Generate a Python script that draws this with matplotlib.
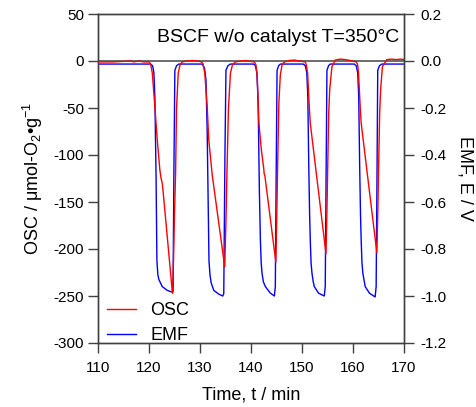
import matplotlib
matplotlib.use("Agg")
import matplotlib.pyplot as plt

plt.rcParams['font.family'] = ['Liberation Sans', 'DejaVu Sans']
plt.rcParams['mathtext.fontset'] = 'custom'
plt.rcParams['mathtext.rm'] = 'Liberation Sans'
plt.rcParams['mathtext.it'] = 'Liberation Sans:italic'
plt.rcParams['mathtext.bf'] = 'Liberation Sans:bold'
plt.rcParams['axes.unicode_minus'] = False

# ---- data ----
osc_time = [110.0, 113.0, 116.5, 117.0, 118.0, 119.0, 119.98, 120.31, 120.65, 121.15, 121.62, 122.13,
            122.37, 122.60, 122.72, 124.56, 124.62, 124.81, 125.01, 125.21, 125.40, 125.73, 126.09, 126.52,
            127.5, 128.5, 129.5, 130.29, 130.59, 130.94, 131.41, 131.72, 132.39, 134.85, 135.09, 135.28,
            135.58, 135.97, 136.36, 136.95, 138.0, 139.0, 140.0, 140.67, 140.96, 141.21, 141.39, 141.55,
            142.04, 142.49, 142.58, 142.72, 144.87, 145.07, 145.26, 145.46, 145.75, 146.09, 146.54, 147.5,
            148.5, 149.5, 150.65, 150.84, 151.10, 151.43, 151.62, 154.70, 154.89, 155.05, 155.24, 155.44,
            155.87, 156.52, 157.5, 158.5, 159.5, 160.63, 160.92, 161.08, 161.41, 161.60, 164.68, 164.87,
            165.03, 165.23, 165.42, 165.77, 166.63, 167.5, 168.5, 169.3, 170.0]
osc_values = [-1, -1, 0, -1, 0, -1, -1, -3, -13, -48.6, -84, -116,
              -125, -130, -136, -245, -247, -210, -160, -120, -50, -13, -4, -1,
              0, 0.5, 0, -1, -3, -13, -48.6, -84, -121, -219, -170, -120,
              -50, -13, -4, -1, 0, 0.5, -0.5, -1, -4, -15, -40, -66,
              -95, -114, -120, -122, -214, -160, -100, -45, -15, -4, -1, 0.5,
              1, 0, -1, -4, -13, -48.6, -66, -205, -160, -110, -55, -30,
              -6, 1, 2, 1.5, 0.5, -1, -4, -13, -48.6, -66, -204, -160,
              -110, -55, -30, -6, 1.5, 2, 1.5, 2, 1.5]

emf_time = [110.0, 120.31, 120.70, 120.96, 121.15, 121.39, 121.55, 121.74, 121.94, 122.60, 123.58, 124.56,
            124.72, 124.87, 125.07, 125.40, 125.85,
            130.43, 130.88, 131.17, 131.41, 131.60, 131.76, 131.96, 132.19, 132.70, 133.68, 134.46, 134.66,
            134.89, 135.09, 135.48, 135.97,
            140.53, 140.86, 141.15, 141.35, 141.45, 141.64, 141.84, 142.00, 142.17, 142.43, 142.82, 143.80,
            144.58, 144.77, 144.93, 145.11, 145.42, 145.75,
            150.25, 150.65, 150.94, 151.14, 151.33, 151.49, 151.62, 151.78, 151.96, 152.21, 152.41, 153.25,
            154.36, 154.56, 154.72, 154.89, 155.21, 155.54,
            160.23, 160.63, 160.92, 161.12, 161.31, 161.47, 161.60, 161.76, 161.94, 162.39, 163.23, 164.34,
            164.54, 164.70, 164.85, 165.19, 165.66, 170.0]
emf_values = [-0.013, -0.013, -0.02, -0.05, -0.15, -0.5, -0.85, -0.91, -0.93, -0.96, -0.976, -0.984,
              -0.98, -0.5, -0.04, -0.02, -0.013,
              -0.013, -0.03, -0.08, -0.3, -0.6, -0.85, -0.91, -0.944, -0.976, -0.992, -1.0, -0.99,
              -0.4, -0.04, -0.02, -0.013,
              -0.013, -0.02, -0.05, -0.15, -0.25, -0.55, -0.76, -0.86, -0.904, -0.94, -0.96, -0.988,
              -1.0, -0.96, -0.5, -0.04, -0.02, -0.013,
              -0.013, -0.02, -0.05, -0.15, -0.45, -0.65, -0.76, -0.86, -0.904, -0.94, -0.96, -0.988,
              -1.0, -0.96, -0.5, -0.04, -0.02, -0.013,
              -0.013, -0.02, -0.05, -0.15, -0.45, -0.65, -0.76, -0.86, -0.904, -0.96, -0.988, -1.004,
              -0.96, -0.5, -0.04, -0.02, -0.013, -0.013]

x_ticks = [110, 120, 130, 140, 150, 160, 170]
osc_ticks = [50, 0, -50, -100, -150, -200, -250, -300]
emf_ticks = [0.2, 0.0, -0.2, -0.4, -0.6, -0.8, -1.0, -1.2]
emf_ticklabels = ["0.2", "0.0", "-0.2", "-0.4", "-0.6", "-0.8", "-1.0", "-1.2"]
title_text = "BSCF w/o catalyst T=350°C"

# ---- figure ----
fig = plt.figure(figsize=(4.76, 4.07), dpi=100)
ax = fig.add_axes([98/476, 1-343/407, (404-98)/476, (343-14)/407])
ax2 = ax.twinx()

spine_col = '#404040'
ax.axhline(0, color='#606060', lw=1.3, zorder=1)
l1, = ax.plot(osc_time, osc_values, color='#ff0000', lw=1.0, zorder=3, label='OSC')
l2, = ax2.plot(emf_time, emf_values, color='#0000ff', lw=1.0, zorder=2, label='EMF')
ax.set_zorder(ax2.get_zorder() + 1)
ax.patch.set_visible(False)

ax.set_xlim(110, 170)
ax.set_ylim(-300, 50)
ax2.set_ylim(-1.2, 0.2)
ax.set_xticks(x_ticks)
ax.set_yticks(osc_ticks)
ax2.set_yticks(emf_ticks)
ax2.set_yticklabels(emf_ticklabels)

for a in (ax, ax2):
    for s in a.spines.values():
        s.set_color(spine_col)
        s.set_linewidth(1.0)
ax.tick_params(axis='x', direction='out', length=7, width=1.0, color=spine_col, labelsize=11, pad=6)
ax.tick_params(axis='y', direction='out', length=7, width=1.0, color=spine_col, labelsize=11, pad=3)
ax2.tick_params(axis='y', direction='out', length=7, width=1.0, color=spine_col, labelsize=11, pad=5)

ax.set_xlabel("Time, t / min", fontsize=13, labelpad=8)
ax.set_ylabel(r"OSC / $\mathrm{\mu}$mol-O$_2$•g$^{-1}$", fontsize=13, labelpad=6)
ax2.set_ylabel("EMF, E / V", fontsize=13, rotation=270, labelpad=19)

ax.text(0.985, 0.955, title_text, transform=ax.transAxes, ha='right', va='top', fontsize=14)

ax.legend([l1, l2], ['OSC', 'EMF'], loc='lower left', frameon=False, fontsize=13,
          handlelength=1.6, handletextpad=0.8, borderaxespad=0.0, labelspacing=0.45,
          bbox_to_anchor=(0.005, -0.025))

fig.savefig("out.png", dpi=100)
